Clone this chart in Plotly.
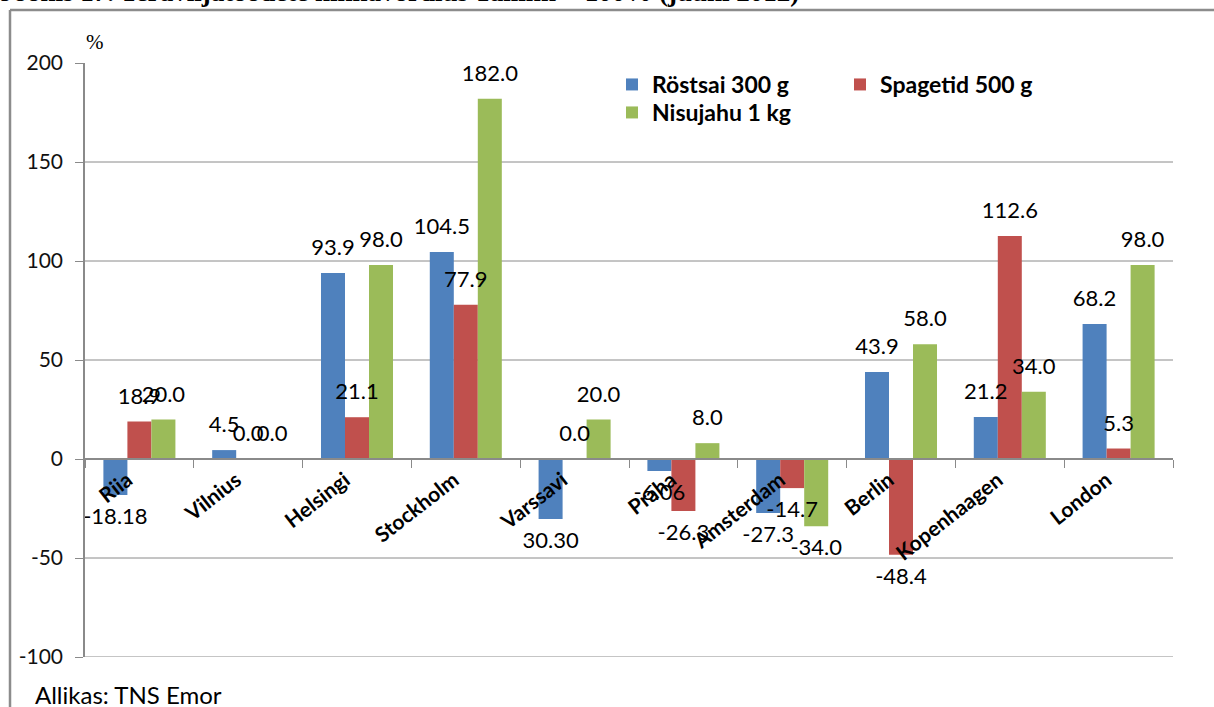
import plotly.graph_objects as go

cities = ["Riia", "Vilnius", "Helsingi", "Stockholm", "Varssavi", "Praha",
          "Amsterdam", "Berlin", "Kopenhaagen", "London"]

series_names = ["Röstsai 300 g", "Spagetid 500 g", "Nisujahu 1 kg"]

rostsai = [-18.18, 4.5, 93.9, 104.5, -30.30, -6.06, -27.3, 43.9, 21.2, 68.2]
rostsai_labels = ["-18.18", "4.5", "93.9", "104.5", "30.30", "-6.06", "-27.3", "43.9", "21.2", "68.2"]

spagetid = [18.9, 0.0, 21.1, 77.9, 0.0, -26.3, -14.7, -48.4, 112.6, 5.3]
spagetid_labels = ["18.9", "0.0", "21.1", "77.9", "0.0", "-26.3", "-14.7", "-48.4", "112.6", "5.3"]

nisujahu = [20.0, 0.0, 98.0, 182.0, 20.0, 8.0, -34.0, 58.0, 34.0, 98.0]
nisujahu_labels = ["20.0", "0.0", "98.0", "182.0", "20.0", "8.0", "-34.0", "58.0", "34.0", "98.0"]

y_ticks = [-100, -50, 0, 50, 100, 150, 200]
y_ticktext = [str(v) for v in y_ticks]
grid_values = [-100, -50, 50, 100, 150]
y_range = [-100, 200]

colors = ["#4F81BD", "#C0504D", "#9BBB59"]

W, H = 1214, 707
ML, MR, MT, MB = 85, 41, 63, 50
PW, PH = W - ML - MR, H - MT - MB
GAP = 0.338


def px_x(px):
    return (px - ML) / PW


def px_y(py):
    return (H - MB - py) / PH


fig = go.Figure()
data = [(rostsai, rostsai_labels, "legend"),
        (spagetid, spagetid_labels, "legend"),
        (nisujahu, nisujahu_labels, "legend2")]

# bars
for (vals, labels, lg), name, col in zip(data, series_names, colors):
    fig.add_trace(go.Bar(
        x=cities, y=vals, name=name, marker_color=col, marker_line_width=0,
        legend=lg, hoverinfo="skip",
    ))

# value labels on top of all bars
for (vals, labels, lg), name in zip(data, series_names):
    fig.add_trace(go.Scatter(
        x=cities, y=vals, mode="markers+text", text=labels,
        textposition=["bottom center" if v < 0 else "top center" for v in vals],
        marker=dict(size=18, opacity=0),
        textfont=dict(family="Lato", size=22, color="#000000"),
        cliponaxis=False, showlegend=False, hoverinfo="skip", name=name,
    ))

# gridlines
for g in grid_values:
    fig.add_shape(type="line", xref="x domain", yref="y", x0=0, x1=1, y0=g, y1=g,
                  line=dict(color="#8a8a8a", width=1), layer="below")

# outer frame
fig.add_shape(type="line", xref="paper", yref="paper",
              x0=px_x(10), x1=px_x(1220), y0=px_y(10), y1=px_y(10),
              line=dict(color="#8c8c8c", width=2.5))
fig.add_shape(type="line", xref="paper", yref="paper",
              x0=px_x(10), x1=px_x(10), y0=px_y(10), y1=px_y(712),
              line=dict(color="#8c8c8c", width=2.5))

zero_pos = (0 - y_range[0]) / (y_range[1] - y_range[0])

fig.update_layout(
    width=W, height=H,
    margin=dict(l=ML, r=MR, t=MT, b=MB),
    paper_bgcolor="white", plot_bgcolor="white",
    barmode="group", bargap=GAP, bargroupgap=0,
    scattermode="group", scattergap=GAP,
    showlegend=True,
    legend=dict(orientation="h", x=px_x(612), y=px_y(63), xanchor="left", yanchor="top",
                entrywidth=183, entrywidthmode="pixels",
                font=dict(family="Lato", size=23, color="#000000", weight="bold"),
                bgcolor="rgba(0,0,0,0)"),
    legend2=dict(orientation="h", x=px_x(612), y=px_y(91), xanchor="left", yanchor="top",
                 font=dict(family="Lato", size=23, color="#000000", weight="bold"),
                 bgcolor="rgba(0,0,0,0)"),
    xaxis=dict(type="category", anchor="free", position=zero_pos,
               showline=True, linecolor="#8a8a8a", linewidth=1.5,
               ticks="outside", ticklen=8, tickcolor="#8a8a8a", tickson="boundaries",
               tickangle=-38, showgrid=False, ticklabelshift=-12,
               tickfont=dict(family="Lato", size=21, color="#000000", weight="bold")),
    yaxis=dict(range=y_range, tickvals=y_ticks, ticktext=y_ticktext,
               showgrid=False, zeroline=False,
               showline=True, linecolor="#8a8a8a", linewidth=1.5,
               ticks="outside", ticklen=8, tickcolor="#8a8a8a",
               ticklabelstandoff=8,
               tickfont=dict(family="Lato", size=21, color="#111111")),
    annotations=[
        dict(text="%", xref="paper", yref="paper", x=px_x(95), y=px_y(42),
             xanchor="center", yanchor="middle",
             showarrow=False, font=dict(family="Liberation Serif", size=21, color="#000000")),
        dict(text="Allikas: TNS Emor", xref="paper", yref="paper", x=px_x(33), y=px_y(694),
             xanchor="left", yanchor="middle", showarrow=False,
             font=dict(family="Lato", size=24, color="#000000")),
        dict(text="Joonis 17. Teraviljatoodete hinnavõrdlus Tallinn = 100% (juuni 2012)",
             xref="paper", yref="paper", x=px_x(-2), y=px_y(8.5),
             xanchor="left", yanchor="bottom", showarrow=False,
             font=dict(family="Liberation Serif", size=27, color="#000000", weight="bold")),
    ],
)

fig.write_html("out.html", config={"displayModeBar": False},
               post_script="document.body.style.margin='0';")
